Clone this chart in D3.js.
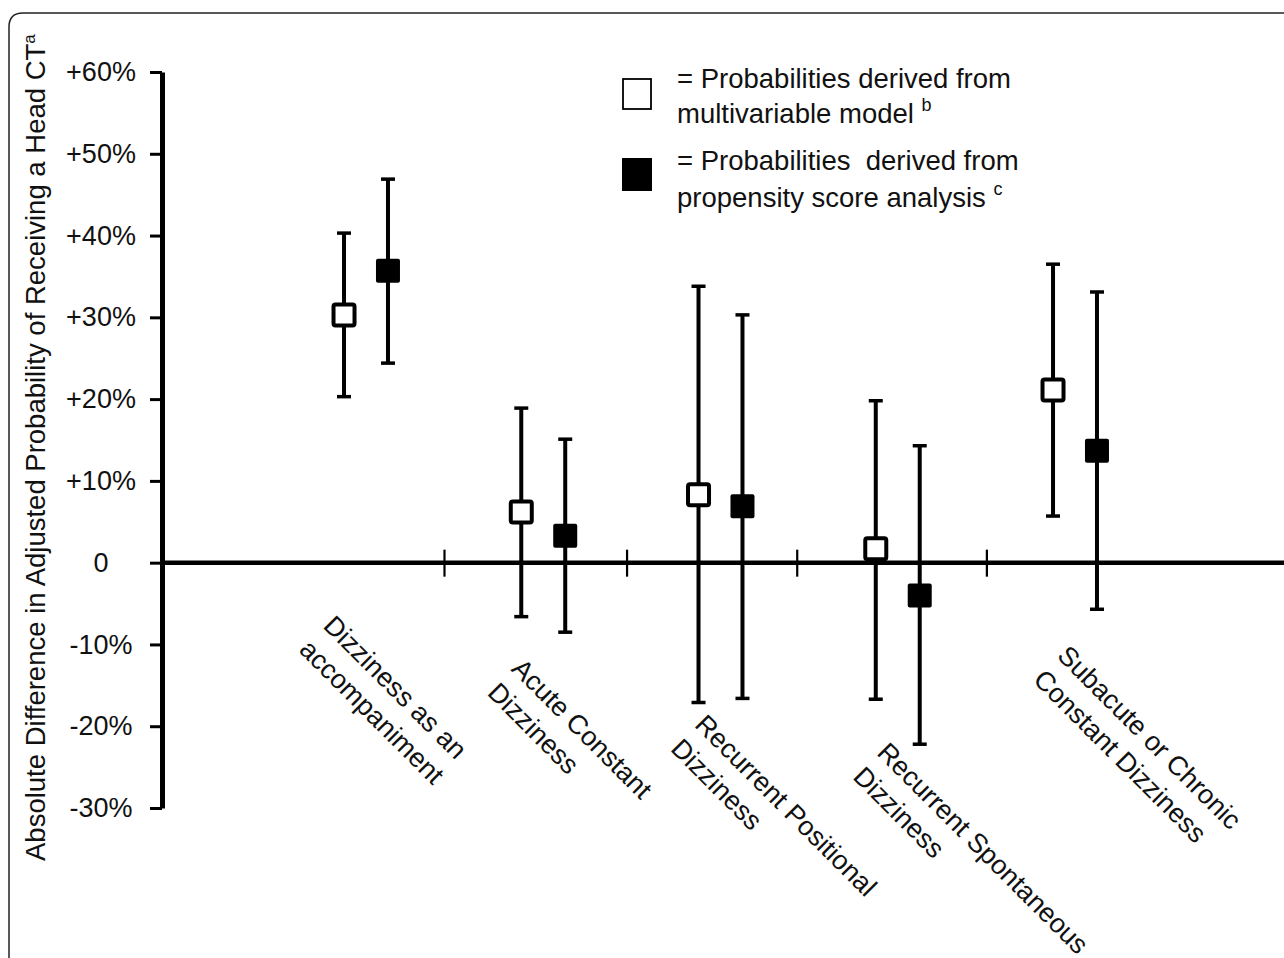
<!DOCTYPE html>
<html>
<head>
<meta charset="utf-8">
<script src="https://cdn.jsdelivr.net/npm/d3@7"></script>
<style>
  body { margin: 0; background: #fff; }
  text { font-family: "Liberation Sans", Arial, sans-serif; fill: #111; }
</style>
</head>
<body>
<div id="chart"></div>
<script>
let width = 1284;
let height = 958;

// data (percentage points)
let categories = [
    ["Dizziness as an", "accompaniment"],
    ["Acute Constant", "Dizziness"],
    ["Recurrent Positional", "Dizziness"],
    ["Recurrent Spontaneous", "Dizziness"],
    ["Subacute or Chronic", "Constant Dizziness"]
];
let modelEst = [30.3, 6.2, 8.3, 1.7, 21.1];
let modelLo  = [20.3, -6.6, -17.1, -16.7, 5.7];
let modelHi  = [40.3, 18.9, 33.8, 19.8, 36.5];
let propEst  = [35.7, 3.3, 6.9, -4.0, 13.7];
let propLo   = [24.4, -8.5, -16.6, -22.2, -5.7];
let propHi   = [46.9, 15.1, 30.3, 14.3, 33.1];
let yTicks = [60, 50, 40, 30, 20, 10, 0, -10, -20, -30];
let yTickLabels = ["+60%", "+50%", "+40%", "+30%", "+20%", "+10%", "0", "-10%", "-20%", "-30%"];
let xBreaks = [0.44, 1.47, 2.43, 3.5];

// label placement (offset from category centre, baseline y), not data
let labelPos = [[-44, 627], [-33, 670], [-27, 726], [-22, 754], [-19, 657]];

let svg = d3.select("#chart")
    .append("svg")
    .attr("width", width)
    .attr("height", height);

// rounded frame, cut by the page edge
svg.append("path")
    .attr("d", "M9," + height + " L9,27 Q9,13 23,13 L" + width + ",13")
    .attr("fill", "none")
    .attr("stroke", "#222")
    .attr("stroke-width", 1.5);

let yScale = d3.scaleLinear().domain([-30, 60]).range([808, 72]);
let xScale = d3.scaleLinear().domain([0, 4]).range([366, 1075]);
let axisX = 162;
let offset = 0.124;

// y axis
let yAxis = d3.axisLeft(yScale)
    .tickValues(yTicks)
    .tickSize(12)
    .tickSizeOuter(0)
    .tickFormat((d, i) => yTickLabels[i]);

let gy = svg.append("g")
    .attr("transform", "translate(" + axisX + ",0)")
    .call(yAxis);
gy.select(".domain").attr("stroke", "#000").attr("stroke-width", 5);
gy.selectAll(".tick line").attr("stroke", "#000").attr("stroke-width", 3);
gy.selectAll(".tick text")
    .attr("x", -61)
    .attr("text-anchor", "middle")
    .style("font-size", "27px")
    .style("font-family", "'Liberation Sans', Arial, sans-serif")
    .attr("fill", "#111");

// zero line and category breaks
svg.append("line")
    .attr("x1", axisX)
    .attr("x2", width)
    .attr("y1", yScale(0))
    .attr("y2", yScale(0))
    .attr("stroke", "#000")
    .attr("stroke-width", 4.5);

let xAxis = d3.axisBottom(xScale).tickValues(xBreaks).tickSize(14).tickFormat("");
let gx = svg.append("g")
    .attr("transform", "translate(0," + yScale(0) + ")")
    .call(xAxis);
gx.select(".domain").remove();
gx.selectAll(".tick line")
    .attr("y1", -13)
    .attr("y2", 14)
    .attr("stroke", "#000")
    .attr("stroke-width", 2.2);

// error bars
function drawSeries(est, lo, hi, dx, filled) {
    let g = svg.append("g");
    let items = est.map((d, i) => ({i: i, est: d, lo: lo[i], hi: hi[i]}));

    g.selectAll(".bar").data(items).enter().append("line")
        .attr("x1", d => xScale(d.i + dx))
        .attr("x2", d => xScale(d.i + dx))
        .attr("y1", d => yScale(d.lo))
        .attr("y2", d => yScale(d.hi))
        .attr("stroke", "#000")
        .attr("stroke-width", 4);

    ["lo", "hi"].forEach(k => {
        g.selectAll(".cap-" + k).data(items).enter().append("line")
            .attr("x1", d => xScale(d.i + dx) - 7)
            .attr("x2", d => xScale(d.i + dx) + 7)
            .attr("y1", d => yScale(d[k]))
            .attr("y2", d => yScale(d[k]))
            .attr("stroke", "#000")
            .attr("stroke-width", 3.5);
    });

    let s = filled ? 24 : 21;
    g.selectAll(".mark").data(items).enter().append("rect")
        .attr("x", d => xScale(d.i + dx) - s / 2)
        .attr("y", d => yScale(d.est) - s / 2)
        .attr("width", s)
        .attr("height", s)
        .attr("rx", 2)
        .attr("fill", filled ? "#000" : "#fff")
        .attr("stroke", filled ? "none" : "#000")
        .attr("stroke-width", 4);
}

drawSeries(modelEst, modelLo, modelHi, -offset, false);
drawSeries(propEst, propLo, propHi, offset, true);

// category labels
categories.forEach((lines, i) => {
    let t = svg.append("text")
        .attr("transform", "translate(" + (xScale(i) + labelPos[i][0]) + "," + labelPos[i][1] + ") rotate(45)")
        .style("font-size", "27px");
    lines.forEach((l, j) => {
        t.append("tspan").attr("x", 0).attr("dy", j === 0 ? 0 : 34).text(l);
    });
});

// y axis title
let yt = svg.append("text")
    .attr("transform", "translate(45,861) rotate(-90)")
    .style("font-size", "27.5px")
    .text("Absolute Difference in Adjusted Probability of Receiving a Head CT");
yt.append("tspan").attr("dy", -10).style("font-size", "17px").text("a");

// legend
let legend = svg.append("g");
legend.append("rect")
    .attr("x", 623).attr("y", 79).attr("width", 28).attr("height", 30)
    .attr("fill", "#fff").attr("stroke", "#000").attr("stroke-width", 1.8);
legend.append("rect")
    .attr("x", 622).attr("y", 158).attr("width", 30).attr("height", 33)
    .attr("fill", "#000");

let legendLines = [
    ["= Probabilities derived from", null, 88],
    ["multivariable model ", "b", 123],
    ["= Probabilities  derived from", null, 170],
    ["propensity score analysis ", "c", 207]
];
legendLines.forEach(l => {
    let t = legend.append("text")
        .attr("x", 677)
        .attr("y", l[2])
        .attr("xml:space", "preserve")
        .style("white-space", "pre")
        .style("font-size", "27.5px")
        .text(l[0]);
    if (l[1]) {
        t.append("tspan").attr("dy", -12).style("font-size", "18px").text(l[1]);
    }
});
</script>
</body>
</html>
